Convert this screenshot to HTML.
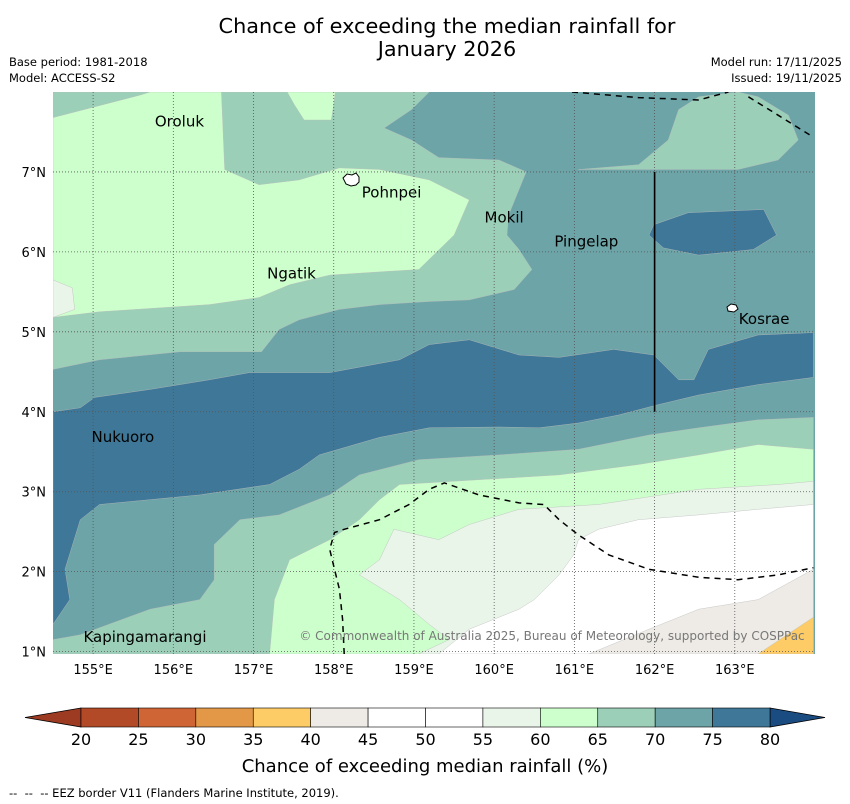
<!DOCTYPE html>
<html><head><meta charset="utf-8"><style>
body{margin:0;background:#fff;}
svg{display:block;font-family:"DejaVu Sans","Liberation Sans",sans-serif;}
</style></head><body>
<svg id="chart" width="850" height="804" viewBox="0 0 850 804" xmlns="http://www.w3.org/2000/svg">
<text x="447" y="33" font-size="20.8" text-anchor="middle">Chance of exceeding the median rainfall for</text>
<text x="447" y="56" font-size="20.8" text-anchor="middle">January 2026</text>
<text x="9" y="66" font-size="11.5">Base period: 1981-2018</text>
<text x="9" y="82" font-size="11.5">Model: ACCESS-S2</text>
<text x="842" y="66" font-size="11.5" text-anchor="end">Model run: 17/11/2025</text>
<text x="842" y="82" font-size="11.5" text-anchor="end">Issued: 19/11/2025</text>
<defs><clipPath id="mapclip"><rect x="53" y="92" width="762" height="562"/></clipPath></defs>
<g id="map" clip-path="url(#mapclip)"></g>
<g id="overlay"></g>
<g id="cbar"></g>
<text x="425" y="772" font-size="18" text-anchor="middle">Chance of exceeding median rainfall (%)</text>
<text x="9" y="797" font-size="11.5">-- &#160;-- &#160;-- EEZ border V11 (Flanders Marine Institute, 2019).</text>
</svg>
<script>
const NS="http://www.w3.org/2000/svg";
// Colorbar data
const levels=[20,25,30,35,40,45,50,55,60,65,70,75,80];
const levelColors=["#b24a27","#cf6534","#e39848","#fecc66","#eeebe6","#ffffff","#ffffff","#eaf5ea","#ccffcc","#9bcfb8","#6ca4a7","#3e7797"];
const extendLow="#9c3a22", extendHigh="#1a4c82";
// Axes data
const lonTicks=[155,156,157,158,159,160,161,162,163];
const latTicks=[1,2,3,4,5,6,7];
const lonRange=[154.5,164.0], latRange=[0.97,8.0];
// Contour regions (lon,lat pairs) with fill level bin
const regionBins=[9,8,8,7,11,11,9,8,7,5,4,3];
const regionNames=["le70-north","le65-north","le65-north-blob","le60-west","ge75-northeast","ge75-band","le70-south","le65-south","le60-south","le55-south","le45-south","le40-south"];
const regions=[
[[154.5,8],[159.19,8],[158.97,7.78],[158.63,7.55],[158.97,7.4],[159.31,7.18],[160.06,7.15],[160.4,7.0],[160.18,6.46],[160.16,6.21],[160.31,6.03],[160.47,5.78],[160.25,5.53],[159.69,5.4],[159.19,5.38],[158.57,5.34],[158.07,5.28],[157.57,5.15],[157.32,5.03],[157.1,4.75],[156.08,4.75],[155.08,4.65],[154.5,4.53]],
[[154.5,7.68],[155.58,7.96],[155.71,8],[156.6,8],[156.64,7.03],[157.07,6.84],[157.57,6.9],[158.07,7.05],[158.57,7.03],[159.19,6.9],[159.69,6.65],[159.5,6.21],[159.06,5.78],[158.57,5.75],[157.95,5.71],[157.45,5.59],[157.07,5.43],[156.45,5.34],[155.08,5.25],[154.5,5.18]],
[[157.42,8],[158.02,8],[158.0,7.84],[157.97,7.65],[157.63,7.65],[157.51,7.84]],
[[154.5,5.65],[154.74,5.55],[154.77,5.28],[154.5,5.18]],
[[161.93,6.21],[161.99,6.34],[162.42,6.49],[163.36,6.53],[163.52,6.21],[163.23,6.03],[162.55,5.96],[162.11,6.05]],
[[154.5,4.0],[154.84,4.05],[155.02,4.18],[155.71,4.28],[156.45,4.4],[156.95,4.49],[157.95,4.49],[158.82,4.65],[159.19,4.84],[159.69,4.9],[160.31,4.71],[160.81,4.68],[161.49,4.78],[161.99,4.71],[162.3,4.4],[162.49,4.4],[162.67,4.78],[163.29,4.96],[163.98,4.99],[163.98,4.43],[163.29,4.34],[162.55,4.21],[162.05,4.09],[161.55,3.96],[161.05,3.86],[160.56,3.8],[160.06,3.81],[159.19,3.8],[158.57,3.68],[157.82,3.46],[157.57,3.28],[157.2,3.09],[156.33,2.96],[155.08,2.84],[154.84,2.65],[154.65,2.03],[154.71,1.65],[154.5,1.34]],
[[154.5,0.97],[154.5,1.15],[154.84,1.21],[155.71,1.53],[156.33,1.65],[156.51,1.9],[156.51,2.34],[156.83,2.65],[157.32,2.71],[157.95,2.96],[158.32,3.21],[159.06,3.4],[160.06,3.46],[161.05,3.53],[161.93,3.71],[162.55,3.8],[163.29,3.9],[163.98,3.93],[163.98,0.97]],
[[157.2,0.97],[157.26,1.65],[157.45,2.15],[157.95,2.4],[158.32,2.65],[158.57,2.9],[158.82,3.09],[159.81,3.15],[160.81,3.21],[161.8,3.34],[162.55,3.46],[163.29,3.59],[163.98,3.53],[163.98,0.97]],
[[159.06,0.97],[159.44,1.15],[159.19,1.34],[158.82,1.65],[158.32,1.96],[158.57,2.15],[158.75,2.53],[159.31,2.4],[159.69,2.59],[160.31,2.78],[161.3,2.84],[162.55,3.03],[163.54,3.09],[163.98,3.13],[163.98,0.97]],
[[159.31,0.97],[159.69,1.28],[160.31,1.53],[160.5,1.65],[160.81,1.96],[160.99,2.21],[161.05,2.4],[161.3,2.53],[161.8,2.65],[162.55,2.71],[163.29,2.78],[163.98,2.84],[163.98,0.97]],
[[161.18,0.97],[161.93,1.28],[162.55,1.53],[163.29,1.65],[163.98,2.03],[163.98,0.97]],
[[163.29,0.97],[163.98,1.43],[163.98,0.97]]
];
const upperRightBlob=[[161.05,7.03],[161.8,7.09],[162.17,7.4],[162.3,7.78],[162.55,7.94],[163.04,8],[163.29,7.94],[163.67,7.71],[163.79,7.4],[163.54,7.15],[163.04,7.03]];
const eezSouth=[[158.13,0.97],[158.11,1.4],[158.07,1.78],[158.01,2.03],[157.95,2.28],[158.01,2.49],[158.13,2.53],[158.57,2.65],[158.94,2.84],[159.19,3.03],[159.38,3.11],[159.81,2.96],[160.31,2.86],[160.62,2.84],[160.81,2.65],[161.05,2.46],[161.43,2.21],[161.93,2.03],[162.55,1.93],[163.04,1.9],[163.54,1.96],[163.98,2.05]];
const eezNorthA=[[160.97,8],[161.8,7.93],[162.55,7.9],[162.92,8]];
const eezNorthB=[[163.17,7.94],[163.54,7.71],[163.94,7.46]];
const boundaryLine=[[162,7],[162,4]];
const placeNames=["Oroluk","Pohnpei","Mokil","Pingelap","Ngatik","Kosrae","Nukuoro","Kapingamarangi"];
const placeLon=[155.77,158.35,159.88,160.75,157.17,163.05,154.98,154.88];
const placeLat=[7.67,6.78,6.47,6.17,5.77,5.2,3.72,1.22];

const X0=53,X1=815,Y0=92,Y1=654;
const xs=lon=>X0+(lon-lonRange[0])/(lonRange[1]-lonRange[0])*(X1-X0);
const ys=lat=>Y1-(lat-latRange[0])/(latRange[1]-latRange[0])*(Y1-Y0);
const pts=a=>a.map(p=>xs(p[0]).toFixed(1)+","+ys(p[1]).toFixed(1)).join(" ");
const map=document.getElementById("map"), ov=document.getElementById("overlay");
function mk(tag,attrs,parent){const e=document.createElementNS(NS,tag);for(const k in attrs)e.setAttribute(k,attrs[k]);parent.appendChild(e);return e;}

let bg=mk("rect",{x:X0,y:Y0,width:X1-X0,height:Y1-Y0,fill:levelColors[10]},map);


let ub=mk("polygon",{points:pts(upperRightBlob),fill:levelColors[9],stroke:"#bbb","stroke-width":0.4},map);


regions.forEach((r,i)=>{
  const p=mk("polygon",{points:pts(r),fill:levelColors[regionBins[i]],stroke:"#bbb","stroke-width":0.4},map);
  
  
});
lonTicks.forEach(l=>{const g=mk("line",{x1:xs(l),x2:xs(l),y1:Y0,y2:Y1,stroke:"#555","stroke-width":0.8,"stroke-dasharray":"1,2"},map);

});
latTicks.forEach(l=>{const g=mk("line",{x1:X0,x2:X1,y1:ys(l),y2:ys(l),stroke:"#555","stroke-width":0.8,"stroke-dasharray":"1,2"},map);

});
[eezSouth,eezNorthA,eezNorthB].forEach(a=>{const l=mk("polyline",{points:pts(a),fill:"none",stroke:"#000","stroke-width":1.5,"stroke-dasharray":"6,5"},map);

});
let bl=mk("polyline",{points:pts(boundaryLine),fill:"none",stroke:"#000","stroke-width":1.6},map);


let pi=mk("path",{d:"M343,178 l4,-4 l5,1 l4,-2 l3,4 l0,5 l-3,3 l-5,1 l-5,-2 z",fill:"#fff",stroke:"#000","stroke-width":1},map);


let ki=mk("path",{d:"M727,307 l4,-3 l5,1 l2,4 l-4,3 l-6,-1 z",fill:"#fff",stroke:"#000","stroke-width":1},map);


placeNames.forEach((n,i)=>{const t=mk("text",{x:xs(placeLon[i]),y:ys(placeLat[i])+8,"font-size":15},map);t.textContent=n;

});
let cp=mk("text",{x:552,y:640,"font-size":12,fill:"#777","text-anchor":"middle"},map);cp.textContent="© Commonwealth of Australia 2025, Bureau of Meteorology, supported by COSPPac";


lonTicks.forEach(l=>{const t=mk("text",{x:xs(l),y:674,"font-size":13,"text-anchor":"middle"},ov);t.textContent=l+"°E";

});
latTicks.forEach(l=>{const t=mk("text",{x:46,y:ys(l)+5,"font-size":13,"text-anchor":"end"},ov);t.textContent=l+"°N";

});
const cb=document.getElementById("cbar"), CX0=81, CX1=770, CY0=708, CY1=727;
const cx=v=>CX0+(v-levels[0])/(levels[levels.length-1]-levels[0])*(CX1-CX0);
let tl=mk("polygon",{points:`${CX0},${CY0} 25,${(CY0+CY1)/2} ${CX0},${CY1}`,fill:extendLow,stroke:"#000","stroke-width":0.8},cb);


let th=mk("polygon",{points:`${CX1},${CY0} 825,${(CY0+CY1)/2} ${CX1},${CY1}`,fill:extendHigh,stroke:"#000","stroke-width":0.8},cb);


levelColors.forEach((c,i)=>{const r=mk("rect",{x:cx(levels[i]),y:CY0,width:cx(levels[i+1])-cx(levels[i]),height:CY1-CY0,fill:c,stroke:"#000","stroke-width":0.6},cb);

});
levels.forEach(v=>{const t=mk("text",{x:cx(v),y:745,"font-size":16,"text-anchor":"middle"},cb);t.textContent=v;

});
</script>
</body></html>
